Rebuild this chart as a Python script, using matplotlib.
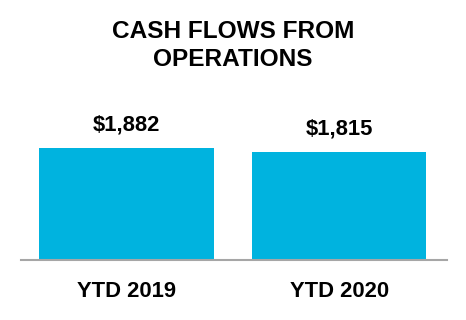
import matplotlib
matplotlib.use('Agg')
from matplotlib import pyplot as plt

categories = ['YTD 2019', 'YTD 2020']
values = [1882, 1815]
value_labels = ['$1,882', '$1,815']

plt.rcParams['font.family'] = ['Liberation Sans', 'DejaVu Sans']

fig = plt.figure(figsize=(4.66, 3.2), dpi=100)
ax = fig.add_axes([21 / 466, 1 - 260 / 320, 426 / 466, 160 / 320])

x = range(len(categories))
bars = ax.bar(x, values, width=0.82, color='#00B3DF', zorder=2)

for xi, v, lab in zip(x, values, value_labels):
    ax.annotate(lab, (xi, v), xytext=(0, 9), textcoords='offset points',
                ha='center', va='bottom', fontsize=15.8, fontweight='bold')

ax.set_xlim(-0.496, 1.507)
ax.set_ylim(0, 2690)
ax.set_xticks(list(x))
ax.set_xticklabels(categories, fontsize=15.8, fontweight='bold')
ax.tick_params(axis='x', length=0, pad=15)
ax.set_yticks([])
for side in ['top', 'right', 'left']:
    ax.spines[side].set_visible(False)
ax.spines['bottom'].set_color('#A6A6A6')
ax.spines['bottom'].set_linewidth(1.5)
ax.spines['bottom'].set_zorder(3)

fig.text(0.5, 1 - 20.5 / 320, 'CASH FLOWS FROM\nOPERATIONS', ha='center', va='top',
         fontsize=17.6, fontweight='bold', linespacing=1.26)

plt.savefig('out.png', dpi=100)
